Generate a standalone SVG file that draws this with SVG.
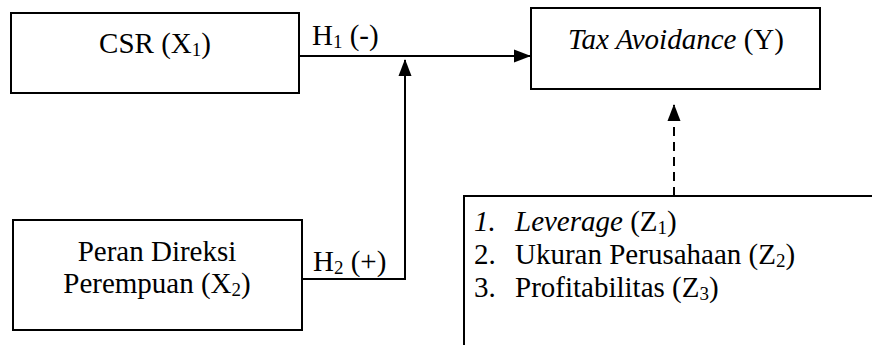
<svg xmlns="http://www.w3.org/2000/svg" width="872" height="345" viewBox="0 0 872 345">
<style>
  text { font-family: "Liberation Serif", "Times New Roman", serif; font-size: 29px; fill: #000; }
  .sub { font-size: 19px; }
  .it { font-style: italic; }
  .box { fill: #fff; stroke: #000; stroke-width: 2; }
  .conn { fill: none; stroke: #000; stroke-width: 2; }
  .dash { stroke-dasharray: 9 6; }
</style>
<defs>
  <marker id="arrow" markerUnits="userSpaceOnUse" markerWidth="17" markerHeight="14" refX="16" refY="7" orient="auto">
    <path d="M0,0.5 L17,7 L0,13.5 z" fill="#000"/>
  </marker>
</defs>
<rect width="872" height="345" fill="#fff"/>
<g id="connectors">
  <line class="conn" x1="300" y1="56" x2="530" y2="56" marker-end="url(#arrow)"/>
  <polyline class="conn" points="302,279 405,279 405,60" marker-end="url(#arrow)"/>
  <line class="conn dash" x1="674" y1="196" x2="674" y2="105" marker-end="url(#arrow)"/>
  <text x="312" y="45">H<tspan class="sub" dy="3">1</tspan><tspan dy="-3"> (-)</tspan></text>
  <text x="313" y="271">H<tspan class="sub" dy="3">2</tspan><tspan dy="-3"> (+)</tspan></text>
</g>
<g id="csr">
  <rect class="box" x="11" y="13" width="288" height="80"/>
  <text x="155" y="53" text-anchor="middle">CSR (X<tspan class="sub" dy="3">1</tspan><tspan dy="-3">)</tspan></text>
</g>
<g id="tax">
  <rect class="box" x="531" y="8" width="289" height="81"/>
  <text x="676" y="49" text-anchor="middle"><tspan class="it">Tax Avoidance</tspan> (Y)</text>
</g>
<g id="peran">
  <rect class="box" x="13" y="220" width="289" height="110"/>
  <text x="157" y="261" text-anchor="middle">Peran Direksi</text>
  <text x="157" y="293" text-anchor="middle">Perempuan (X<tspan class="sub" dy="3">2</tspan><tspan dy="-3">)</tspan></text>
</g>
<g id="kontrol">
  <rect class="box" x="464" y="196" width="430" height="200"/>
  <text x="474" y="231" class="it">1.</text>
  <text x="515" y="231"><tspan class="it">Leverage</tspan> (Z<tspan class="sub" dy="3">1</tspan><tspan dy="-3">)</tspan></text>
  <text x="474" y="264">2.</text>
  <text x="515" y="264">Ukuran Perusahaan (Z<tspan class="sub" dy="3">2</tspan><tspan dy="-3">)</tspan></text>
  <text x="474" y="297">3.</text>
  <text x="515" y="297">Profitabilitas (Z<tspan class="sub" dy="3">3</tspan><tspan dy="-3">)</tspan></text>
</g>
</svg>
